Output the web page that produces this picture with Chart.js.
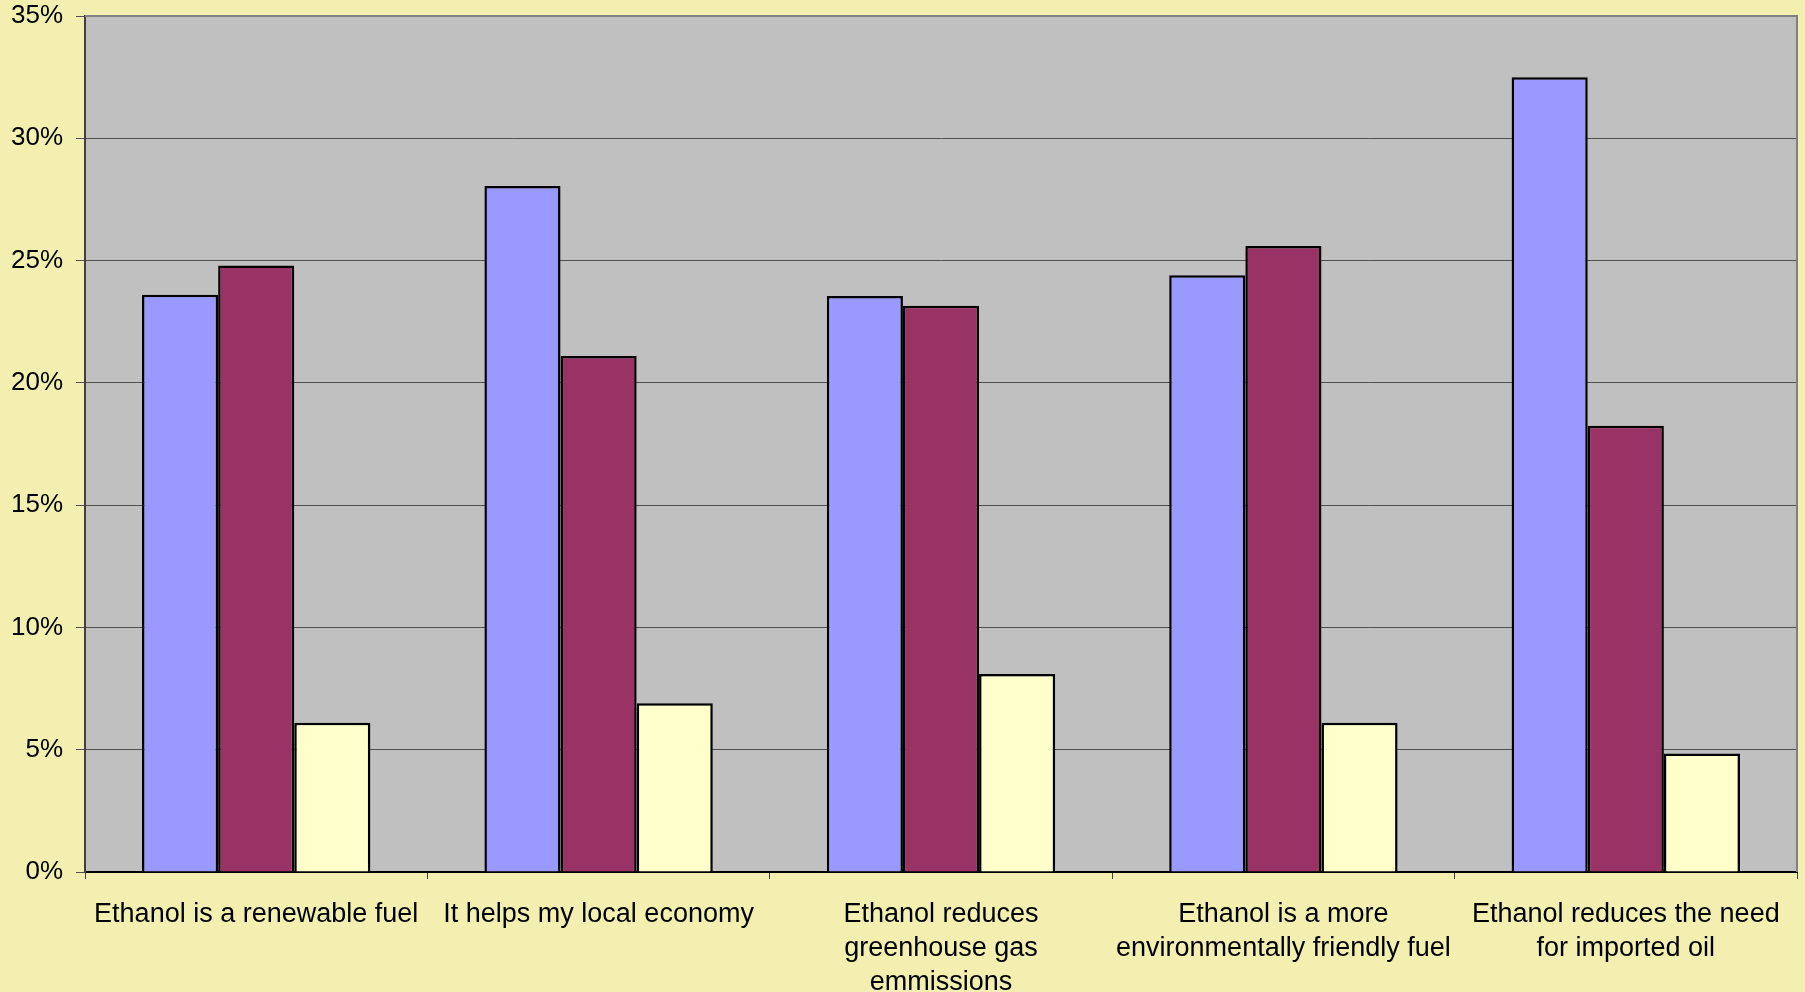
<!DOCTYPE html>
<html>
<head>
<meta charset="utf-8">
<script src="https://cdn.jsdelivr.net/npm/chart.js@4/dist/chart.umd.min.js"></script>
<style>
  html, body { margin: 0; padding: 0; background: #F2EFB0; }
  #wrap { width: 1805px; height: 992px; }
</style>
</head>
<body>
<div id="wrap"><canvas id="chart" width="1805" height="992"></canvas></div>
<script>
// reasons for buying ethanol, share of answers per group
var categories = [
    'Ethanol is a renewable fuel',
    'It helps my local economy',
    ['Ethanol reduces', 'greenhouse gas', 'emmissions'],
    ['Ethanol is a more', 'environmentally friendly fuel'],
    ['Ethanol reduces the need', 'for imported oil']
];
var series_blue = [23.6, 28.05, 23.55, 24.4, 32.5];
var series_maroon = [24.8, 21.1, 23.15, 25.6, 18.25];
var series_yellow = [6.1, 6.9, 8.1, 6.1, 4.85];
var y_ticks = [0, 5, 10, 15, 20, 25, 30, 35];

var font_family = '"Liberation Sans", Arial, sans-serif';

// grey plot area with a light frame on top and right
var plotArea = {
    id: 'plotArea',
    beforeDraw: function(chart) {
        var a = chart.chartArea;
        var ctx = chart.ctx;
        ctx.save();
        ctx.fillStyle = '#C0C0C0';
        ctx.fillRect(a.left, a.top, a.right - a.left, a.bottom - a.top);
        ctx.restore();
    },
    afterDraw: function(chart) {
        var a = chart.chartArea;
        var ctx = chart.ctx;
        ctx.save();
        ctx.strokeStyle = '#808080';
        ctx.lineWidth = 2;
        ctx.beginPath();
        ctx.moveTo(a.left, a.top);
        ctx.lineTo(a.right, a.top);
        ctx.lineTo(a.right, a.bottom);
        ctx.stroke();
        ctx.restore();
    }
};

function make_set(label, values, color) {
    return {
        label: label,
        data: values,
        backgroundColor: color,
        borderColor: '#000000',
        borderWidth: 2.5,
        borderSkipped: 'bottom',
        categoryPercentage: 0.667,
        barPercentage: 1.0
    };
}

var ctx = document.getElementById('chart').getContext('2d');
var chart = new Chart(ctx, {
    type: 'bar',
    data: {
        labels: categories,
        datasets: [
            make_set('blue', series_blue, '#9999FF'),
            make_set('maroon', series_maroon, '#993366'),
            make_set('yellow', series_yellow, '#FFFFCC')
        ]
    },
    options: {
        responsive: false,
        animation: false,
        layout: { padding: { top: 16, right: 8, left: 0, bottom: 0 } },
        plugins: {
            legend: { display: false },
            tooltip: { enabled: false }
        },
        scales: {
            x: {
                afterFit: function(scale) {
                    scale.height = 120;
                    scale.paddingLeft = 0;
                    scale.paddingRight = 0;
                },
                grid: {
                    offset: true,
                    drawOnChartArea: false,
                    drawTicks: true,
                    tickLength: 7,
                    color: '#404040'
                },
                border: { color: '#000000', width: 2 },
                ticks: {
                    autoSkip: false,
                    maxRotation: 0,
                    minRotation: 0,
                    padding: 19,
                    color: '#000000',
                    font: { family: font_family, size: 27, lineHeight: 1.25 }
                }
            },
            y: {
                min: 0,
                max: 35,
                afterFit: function(scale) {
                    scale.width = 85;
                    scale.paddingTop = 0;
                    scale.paddingBottom = 0;
                },
                afterBuildTicks: function(scale) {
                    scale.ticks = y_ticks.map(function(v) { return { value: v }; });
                },
                grid: {
                    color: '#505050',
                    lineWidth: 1,
                    tickLength: 9
                },
                border: { color: '#404040', width: 2 },
                ticks: {
                    padding: 13,
                    color: '#000000',
                    font: { family: font_family, size: 26 },
                    callback: function(v) { return v + '%'; }
                }
            }
        }
    },
    plugins: [plotArea]
});
</script>
</body>
</html>
